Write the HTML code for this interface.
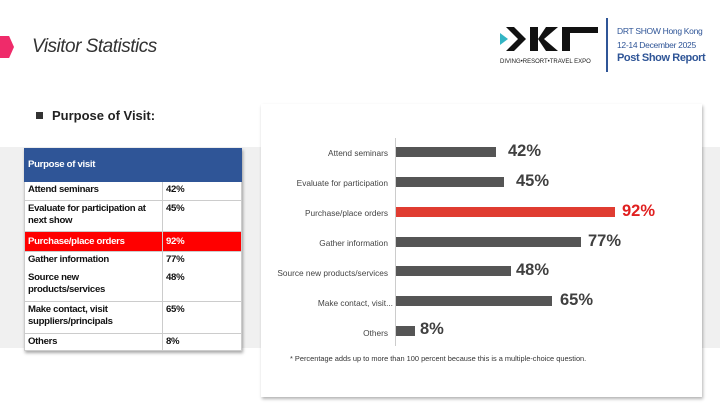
<!DOCTYPE html>
<html><head><meta charset="utf-8"><style>
*{margin:0;padding:0;box-sizing:border-box}
body{width:720px;height:405px;background:#fff;position:relative;overflow:hidden;font-family:"Liberation Sans",sans-serif}
.abs{position:absolute}
.band{left:0;top:147px;width:720px;height:201px;background:#f0f0f0}
table{position:absolute;left:24px;top:148px;width:218px;border-collapse:collapse;font-size:9.6px;font-weight:bold;color:#111;box-shadow:1px 2px 3px rgba(0,0,0,.35);background:#fff;letter-spacing:-0.3px}
td{border:1px solid #ccc;padding:2px 3px;vertical-align:top;line-height:12px}
td:first-child{width:138px}
tr.h td{background:#2f5597;color:#fff;height:33px;vertical-align:middle;border-color:#2f5597}
tr.r td{background:#ff0000;color:#fff}
.panel{left:261px;top:104px;width:441px;height:293px;background:#fff;box-shadow:1px 2px 3px rgba(0,0,0,.3)}
.lbl{font-size:8.3px;color:#444;text-align:right;width:220px;left:168px}
.bar{left:396px;height:10px;background:#555}
.val{font-size:16.5px;font-weight:bold;color:#404040}
</style></head><body>
<div class="abs" style="left:0;top:36px;width:14px;height:22px;background:#ef2b6a;clip-path:polygon(0 0,65% 0,100% 50%,65% 100%,0 100%)"></div>
<div class="abs" style="left:32px;top:36px;font-size:19px;font-style:italic;color:#333;letter-spacing:-0.5px">Visitor Statistics</div>
<svg class="abs" style="left:500px;top:27px" width="100" height="40">
<polygon points="0,6 8,12 0,18" fill="#33b5c4"/>
<polygon points="6,0 14,0 26,12 14,24 6,24 18,12" fill="#111"/>
<rect x="30" y="0" width="8" height="24" fill="#111"/>
<polygon points="46,0 58,0 44,12 58,24 46,24 38,12" fill="#111"/>
<polygon points="62,0 98,0 98,6 70,6 70,24 62,24" fill="#111"/>
<text x="0" y="36" font-size="6" fill="#222" font-family="Liberation Sans">DIVING•RESORT•TRAVEL EXPO</text>
</svg>
<div class="abs" style="left:606px;top:18px;width:2px;height:54px;background:#2f5597"></div>
<div class="abs" style="left:617px;top:24px;font-size:8.5px;color:#2f5597;line-height:14px;letter-spacing:-0.3px">DRT SHOW Hong Kong<br>12-14 December 2025</div>
<div class="abs" style="left:617px;top:52px;font-size:11px;font-weight:bold;color:#2f5597;letter-spacing:-0.4px">Post Show Report</div>
<div class="abs" style="left:36px;top:112px;width:7px;height:7px;background:#333"></div>
<div class="abs" style="left:52px;top:108px;font-size:13px;font-weight:bold;color:#222">Purpose of Visit:</div>
<div class="abs band"></div>
<table>
<tr class="h"><td>Purpose of visit</td><td></td></tr>
<tr><td style="height:19px">Attend seminars</td><td>42%</td></tr>
<tr><td style="height:31px">Evaluate for participation at next show</td><td>45%</td></tr>
<tr class="r"><td style="height:20px;vertical-align:middle">Purchase/place orders</td><td style="vertical-align:middle">92%</td></tr>
<tr><td style="height:18px;border-bottom:none">Gather information</td><td style="border-bottom:none">77%</td></tr>
<tr><td style="height:32px;border-top:none">Source new<br>products/services</td><td style="border-top:none">48%</td></tr>
<tr><td style="height:32px">Make contact, visit suppliers/principals</td><td>65%</td></tr>
<tr><td style="height:17px">Others</td><td>8%</td></tr>
</table>
<div class="abs panel"></div>
<div class="abs" style="left:395px;top:138px;width:1px;height:208px;background:#ccc"></div>
<div class="abs lbl" style="top:148px">Attend seminars</div>
<div class="abs lbl" style="top:178px">Evaluate for participation</div>
<div class="abs lbl" style="top:208px">Purchase/place orders</div>
<div class="abs lbl" style="top:238px">Gather information</div>
<div class="abs lbl" style="top:268px">Source new products/services</div>
<div class="abs lbl" style="top:298px;left:173px">Make contact, visit...</div>
<div class="abs lbl" style="top:328px">Others</div>
<div class="abs bar" style="top:147px;width:100px"></div>
<div class="abs bar" style="top:177px;width:108px"></div>
<div class="abs bar" style="top:207px;width:219px;background:#e03c31"></div>
<div class="abs bar" style="top:237px;width:185px"></div>
<div class="abs bar" style="top:266px;width:115px"></div>
<div class="abs bar" style="top:296px;width:156px"></div>
<div class="abs bar" style="top:326px;width:19px"></div>
<div class="abs val" style="left:508px;top:142px">42%</div>
<div class="abs val" style="left:516px;top:172px">45%</div>
<div class="abs val" style="left:622px;top:202px;color:#e02020">92%</div>
<div class="abs val" style="left:588px;top:232px">77%</div>
<div class="abs val" style="left:516px;top:261px">48%</div>
<div class="abs val" style="left:560px;top:291px">65%</div>
<div class="abs val" style="left:420px;top:320px">8%</div>
<div class="abs" style="left:290px;top:354px;font-size:7.4px;color:#333">* Percentage adds up to more than 100 percent because this is a multiple-choice question.</div>
</body></html>
